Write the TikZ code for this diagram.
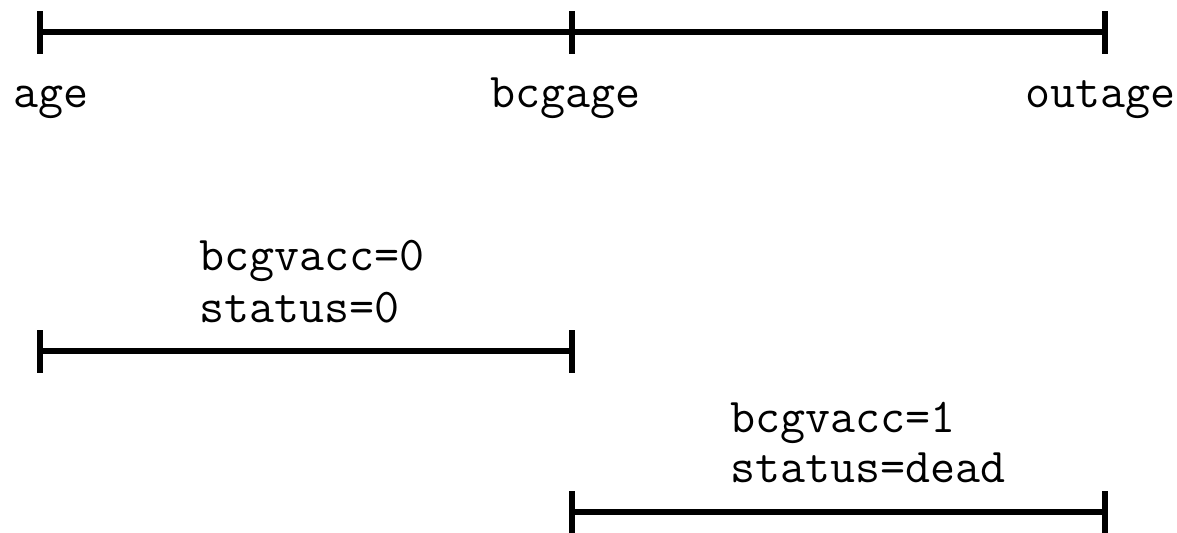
\documentclass[tikz,border=0pt]{standalone}
\usepackage{fontspec}
\begin{document}
\begin{tikzpicture}[x=0.5pt,y=-0.5pt,
  seg/.style={line width=3.4pt},
  tick/.style={line width=2.6pt},
  lbl/.style={anchor=base west,inner sep=0pt,font=\ttfamily\fontsize{24.3}{27}\selectfont}]
\useasboundingbox (0,0) rectangle (1177,532);
% top axis
\coordinate (a1) at (40,32);
\coordinate (b1) at (572,32);
\coordinate (c1) at (1105,32);
\draw[seg] (a1) -- (c1);
\foreach \p in {a1,b1,c1} \draw[tick] ([yshift=10.5pt]\p) -- ([yshift=-11pt]\p);
\node[lbl] (lage) at (13,107) {age};
\node[lbl] (lbcg) at (490,107) {bcgage};
\node[lbl] (lout) at (1025,107) {outage};
% first interval
\coordinate (a2) at (40,351);
\coordinate (b2) at (572,351);
\draw[seg] (a2) -- (b2);
\foreach \p in {a2,b2} \draw[tick] ([yshift=10.5pt]\p) -- ([yshift=-11pt]\p);
\node[lbl] (t1a) at (199,270) {bcgvacc=0};
\node[lbl] (t1b) at (199,322) {status=0};
% second interval
\coordinate (b3) at (572,512);
\coordinate (c3) at (1105,512);
\draw[seg] (b3) -- (c3);
\foreach \p in {b3,c3} \draw[tick] ([yshift=10.5pt]\p) -- ([yshift=-11pt]\p);
\node[lbl] (t2a) at (730,432) {bcgvacc=1};
\node[lbl] (t2b) at (730,482) {status=dead};
\end{tikzpicture}
\end{document}
